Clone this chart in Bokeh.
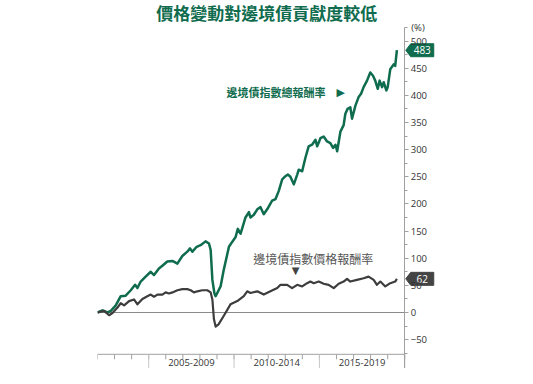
from bokeh.plotting import figure
from bokeh.models import Range1d, LinearAxis, FixedTicker, Label
from bokeh.core.properties import value
from bokeh.embed import file_html
from bokeh.resources import INLINE

# ---------------- data ----------------
title_text = "價格變動對邊境債貢獻度較低"
total_name = "邊境債指數總報酬率"
price_name = "邊境債指數價格報酬率"
unit_label = "(%)"

period_labels = ["2005-2009", "2010-2014", "2015-2019"]
period_centers = [2007.5, 2012.5, 2017.5]
year_ticks = list(range(2002, 2021))
separators = [2005, 2010, 2015, 2020]
y_major = list(range(-50, 501, 50))
y_minor = list(range(-75, 526, 25))

total_years = [2002.00, 2002.29, 2002.58, 2002.78, 2003.07, 2003.36, 2003.65, 2003.95,
               2004.20, 2004.34, 2004.53, 2004.82, 2005.12, 2005.31, 2005.60, 2005.80,
               2006.09, 2006.39, 2006.68, 2006.97, 2007.26, 2007.42, 2007.56, 2007.81,
               2008.04, 2008.33, 2008.53, 2008.63, 2008.73, 2008.85, 2008.92, 2009.21,
               2009.40, 2009.70, 2009.89, 2010.09, 2010.22, 2010.38, 2010.67, 2010.87,
               2010.96, 2011.16, 2011.36, 2011.55, 2011.74, 2011.94, 2012.23, 2012.43,
               2012.62, 2012.82, 2013.01, 2013.15, 2013.30, 2013.50, 2013.70, 2013.79,
               2013.99, 2014.18, 2014.37, 2014.57, 2014.77, 2014.87, 2015.06, 2015.25,
               2015.45, 2015.64, 2015.80, 2015.94, 2016.04, 2016.23, 2016.42, 2016.52,
               2016.65, 2016.81, 2016.91, 2017.11, 2017.30, 2017.44, 2017.59, 2017.79,
               2017.98, 2018.14, 2018.27, 2018.42, 2018.53, 2018.67, 2018.77, 2018.92,
               2019.00, 2019.15, 2019.35, 2019.44, 2019.54]
total_vals = [0, 4, 0, 3, 13, 30, 31, 41,
              51, 45, 57, 66, 75, 69, 81, 86,
              94, 95, 90, 104, 112, 118, 112, 121,
              124, 131, 127, 115, 60, 35, 30, 48,
              79, 121, 130, 139, 154, 145, 175, 185,
              175, 180, 190, 194, 181, 190, 206, 209,
              224, 245, 251, 254, 250, 236, 254, 263,
              260, 285, 306, 309, 318, 306, 321, 324,
              315, 312, 303, 309, 297, 333, 345, 366,
              375, 378, 357, 381, 397, 403, 415, 427,
              442, 436, 427, 412, 427, 415, 424, 409,
              415, 448, 457, 454, 483]

price_years = [2002.00, 2002.39, 2002.68, 2002.88, 2003.17, 2003.36, 2003.56, 2003.85,
               2004.14, 2004.34, 2004.63, 2004.92, 2005.12, 2005.31, 2005.51, 2005.80,
               2005.99, 2006.19, 2006.39, 2006.68, 2006.97, 2007.26, 2007.46, 2007.65,
               2007.85, 2008.14, 2008.43, 2008.63, 2008.73, 2008.82, 2008.92, 2009.09,
               2009.40, 2009.79, 2010.19, 2010.57, 2010.77, 2010.96, 2011.36, 2011.74,
               2012.13, 2012.53, 2012.72, 2013.11, 2013.40, 2013.70, 2013.99, 2014.28,
               2014.47, 2014.67, 2014.96, 2015.25, 2015.54, 2015.84, 2016.13, 2016.42,
               2016.62, 2016.81, 2017.20, 2017.59, 2017.88, 2018.18, 2018.37, 2018.57,
               2018.86, 2019.15, 2019.44, 2019.54]
price_vals = [0, 3, -5, -1, 9, 17, 13, 21,
              24, 15, 25, 30, 33, 29, 33, 33,
              37, 35, 37, 41, 43, 43, 41, 37,
              39, 41, 41, 37, 24, -12, -26, -22,
              -6, 15, 21, 30, 39, 36, 39, 33,
              39, 45, 51, 51, 45, 51, 48, 54,
              57, 54, 57, 53, 51, 45, 53, 57,
              62, 57, 60, 63, 66, 60, 51, 57,
              48, 54, 57, 62]

# ---------------- layout / styling ----------------
GREEN = "#0f6c4e"
DARK = "#3d3d3d"
TAG_DARK = "#444444"
AXIS = "#a0a0a0"
LABEL_FONT = "Open Sans"
CJK = "Noto Sans CJK TC"

W, H = 517, 368
LEFT, RIGHT = 97, 40
PX_X = 17.07                      # pixels per year
X0 = 2002.0
X1 = X0 + (W - LEFT - RIGHT) / PX_X
AXIS_X = 2020.0                   # where the value axis sits
PX_Y = 0.543                      # pixels per percentage point
ZERO_Y = 312.0                    # pixel row of the zero line
Y1 = ZERO_Y / PX_Y
Y0 = Y1 - H / PX_Y
BASE = -77                        # level of the time baseline

p = figure(width=W, height=H, output_backend="svg", toolbar_location=None,
           x_range=Range1d(X0, X1), y_range=Range1d(Y0, Y1),
           x_axis_location=None, y_axis_location=None,
           min_border_left=LEFT, min_border_right=RIGHT,
           min_border_top=0, min_border_bottom=0)
p.outline_line_color = None
p.grid.visible = False
p.background_fill_color = "white"
p.border_fill_color = "white"

# value axis, fixed at the end of 2019
yaxis = LinearAxis(ticker=FixedTicker(ticks=y_major, minor_ticks=y_minor),
                   bounds=(Y0, 525), fixed_location=AXIS_X)
yaxis.axis_line_color = AXIS
yaxis.major_tick_line_color = AXIS
yaxis.minor_tick_line_color = AXIS
yaxis.major_tick_in = 0
yaxis.major_tick_out = 4
yaxis.minor_tick_in = 0
yaxis.minor_tick_out = 3
yaxis.major_label_standoff = 2
yaxis.major_label_text_font = LABEL_FONT
yaxis.major_label_text_font_size = "9.5px"
yaxis.major_label_text_color = "#333333"
p.add_layout(yaxis, "right")

# zero line and time baseline
p.segment(x0=[X0, X0], y0=[0, BASE], x1=[AXIS_X, AXIS_X], y1=[0, BASE],
          line_color=["#8a8a8a", AXIS], line_width=1)

tick_len = 5 / PX_Y
p.segment(x0=year_ticks, y0=[BASE] * len(year_ticks), x1=year_ticks,
          y1=[BASE - tick_len] * len(year_ticks), line_color=AXIS, line_width=1)
p.segment(x0=separators, y0=[BASE] * len(separators), x1=separators,
          y1=[Y0] * len(separators), line_color="#c8c8c8", line_width=1)
p.text(x=period_centers, y=[BASE - 8.5 / PX_Y] * len(period_centers), text=period_labels,
       text_align="center", text_baseline="middle", text_font=value(LABEL_FONT),
       text_font_size="9.5px", text_color="#333333")

# series
p.line(total_years, total_vals, line_color=GREEN, line_width=2.5, line_join="round")
p.line(price_years, price_vals, line_color=DARK, line_width=2.2, line_join="round")

# title
p.add_layout(Label(x=2011.92, y=Y1 - 11.5 / PX_Y, text=title_text, text_align="center",
                   text_baseline="middle", text_font=CJK, text_font_size="17px",
                   text_font_style="bold", text_color=GREEN))

# series annotations
p.text(x=[2009.55], y=[406], text=[total_name], text_align="left", text_baseline="middle",
       text_font=value(CJK), text_font_size="11px", text_font_style="bold", text_color=GREEN)
p.text(x=[2016.25], y=[406], text=["▶"], text_align="center", text_baseline="middle",
       text_font=value("DejaVu Sans"), text_font_size="11px", text_color=GREEN)
p.text(x=[2014.64], y=[99.6], text=[price_name], text_align="center", text_baseline="middle",
       text_font=value(CJK), text_font_size="12px", text_color="#555555")
p.text(x=[2013.61], y=[76.7], text=["▼"], text_align="center", text_baseline="middle",
       text_font=value("DejaVu Sans"), text_font_size="10px", text_color="#444444")

# unit label at the top of the value axis
p.text(x=[AXIS_X + 6.5 / PX_X], y=[525], text=[unit_label], text_align="left",
       text_baseline="middle", text_font=value(LABEL_FONT), text_font_size="9.5px",
       text_color="#333333")

# end value tags
def add_tag(val, color):
    tip = AXIS_X + 1 / PX_X
    base = AXIS_X + 6 / PX_X
    right = AXIS_X + 29 / PX_X
    h = 6.5 / PX_Y
    p.patch(x=[tip, base, right, right, base],
            y=[val, val + h, val + h, val - h, val - h],
            fill_color=color, line_color=color, line_width=1)
    p.text(x=[AXIS_X + 17.5 / PX_X], y=[val], text=[str(val)], text_align="center",
           text_baseline="middle", text_font=value(LABEL_FONT), text_font_size="10px",
           text_color="white")

add_tag(total_vals[-1], GREEN)
add_tag(price_vals[-1], TAG_DARK)

open("out.html", "w").write(file_html(p, INLINE))
